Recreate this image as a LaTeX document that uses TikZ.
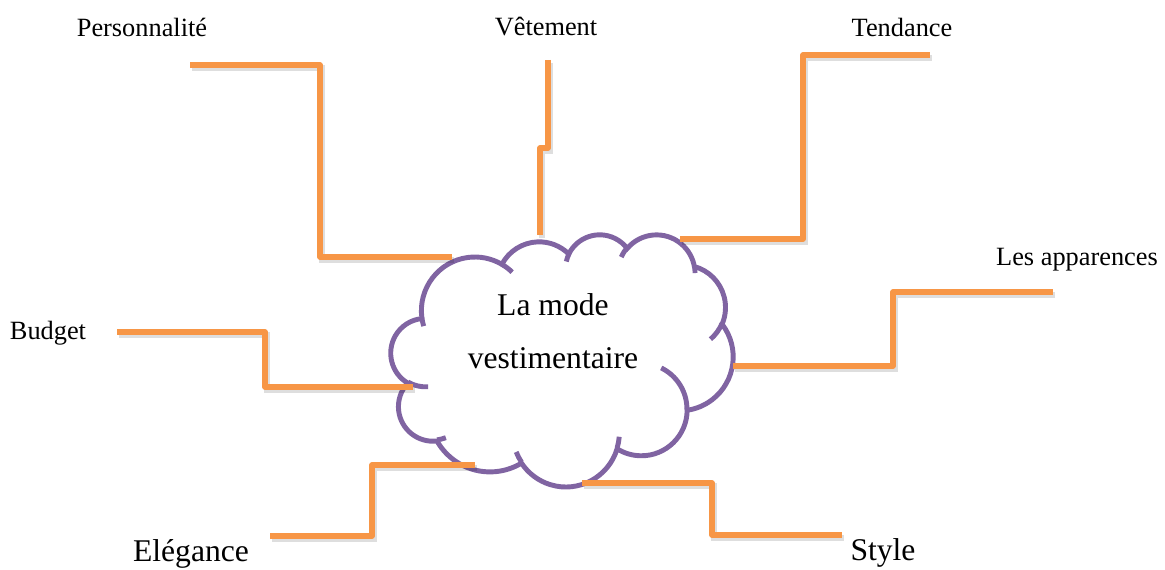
\documentclass[tikz,border=0pt]{standalone}
\usepackage{fontspec}
\setmainfont{Liberation Serif}
\definecolor{mforange}{RGB}{247,150,70}
\definecolor{mfpurple}{RGB}{128,100,162}

\begin{document}
\begin{tikzpicture}[
    x=0.02cm, y=-0.02cm,
    %% ── text styles ──────────────────────────────────────────────────────────
    smalllabel/.style={font=\fontsize{15}{18}\selectfont, inner sep=0pt},
    biglabel/.style={font=\fontsize{18}{22}\selectfont, inner sep=0pt},
    cloudtext/.style={font=\fontsize{18}{30}\selectfont, align=center, inner sep=0pt},
    %% ── line styles ──────────────────────────────────────────────────────────
    branch/.style={
        draw=mforange, line width=3pt, line join=round,
        preaction={draw=black, opacity=0.13, line width=3.4pt,
                   transform canvas={shift={(1pt,-1.5pt)}}}
    },
    cloudline/.style={draw=mfpurple, line width=2.8pt},
    %% one puff of the cloud: wR, hR, start angle, sweep
    puff/.style n args={4}{insert path={
        arc[start angle={atan2(#1*sin(#3),#2*cos(#3))},
            delta angle={mod(atan2(#1*sin(#3+#4),#2*cos(#3+#4))-atan2(#1*sin(#3),#2*cos(#3))+720,360)},
            x radius=#1, y radius=#2]}},
]
\useasboundingbox (0,0) rectangle (1165,570);

%% ── Cloud ───────────────────────────────────────────────────────────────────
\begin{scope}[shift={(391,234)}, x=0.015833cm, y=-0.011667cm]
  \filldraw[cloudline, fill=white] (39.00,143.70)
    [puff={67.53}{91.90}{-190.487}{123.781}]
    [puff={53.33}{72.67}{-144.102}{89.945}]
    [puff={43.65}{59.45}{-145.808}{99.723}]
    [puff={48.57}{65.95}{-130.986}{117.242}]
    [puff={53.33}{72.73}{-78.709}{109.027}]
    [puff={67.75}{92.20}{-46.267}{130.269}]
    [puff={57.85}{78.67}{0.625}{114.033}]
    [puff={67.52}{92.15}{22.452}{115.173}]
    [puff={77.20}{105.43}{66.243}{75.711}]
    [puff={43.60}{59.18}{-274.942}{146.736}]
    [puff={43.45}{59.45}{-246.829}{152.519}]
    -- cycle;
  %% inner strokes
  \draw[cloudline]
    (46.93,261.77)  [puff={43.45}{59.45}{86.742}{26.430}]
    (69.28,348.99)  [puff={43.60}{59.18}{73.611}{11.447}]
    (164.78,390.90) [puff={67.52}{92.15}{137.624}{14.081}]
    (288.27,347.51) [puff={67.52}{92.15}{6.453}{15.998}]
    (341.29,229.54) [puff={57.85}{78.67}{-70.292}{70.917}]
    (417.98,153.54) [puff={53.33}{72.73}{30.318}{27.752}]
    (383.24,54.26)  [puff={48.57}{65.95}{-13.744}{14.859}]
    (290.78,39.52)  [puff={48.57}{65.95}{-149.181}{18.195}]
    (221.41,47.20)  [puff={43.65}{59.45}{-163.494}{17.686}]
    (140.00,51.92)  [puff={67.53}{91.90}{-66.707}{12.319}]
    (41.27,157.89)  [puff={67.53}{91.90}{157.654}{11.858}];
\end{scope}

\node[cloudtext] (mode) at (553,331) {La mode\\vestimentaire};

%% ── Labels ──────────────────────────────────────────────────────────────────
\node[smalllabel] (personnalite) at (142,27)  {Personnalité};
\node[smalllabel] (vetement)     at (546,27)  {Vêtement};
\node[smalllabel] (tendance)     at (902,27)  {Tendance};
\node[smalllabel] (apparences)   at (1077,260) {Les apparences};
\node[smalllabel] (budget)       at (48,333)  {Budget};
\node[biglabel]   (elegance)     at (191,554) {Elégance};
\node[biglabel]   (style)        at (883,553) {Style};

%% ── Branch end points ───────────────────────────────────────────────────────
\coordinate (pers-start) at (190,65);   \coordinate (pers-knee) at (320,257);
\coordinate (pers-end)   at (452,257);
\coordinate (vet-start)  at (548,60);   \coordinate (vet-knee)  at (540,148);
\coordinate (vet-end)    at (540,235);
\coordinate (tend-start) at (930,55);   \coordinate (tend-knee) at (803,239);
\coordinate (tend-end)   at (680,239);
\coordinate (app-start)  at (1053,292); \coordinate (app-knee)  at (893,366);
\coordinate (app-end)    at (733,366);
\coordinate (bud-start)  at (117,332);  \coordinate (bud-knee)  at (265,387);
\coordinate (bud-end)    at (413,387);
\coordinate (ele-start)  at (270,536);  \coordinate (ele-knee)  at (372,465);
\coordinate (ele-end)    at (475,465);
\coordinate (sty-start)  at (582,483);  \coordinate (sty-knee)  at (712,535);
\coordinate (sty-end)    at (842,535);

%% ── Branches ────────────────────────────────────────────────────────────────
\draw[branch] (pers-start) -| (pers-knee) -- (pers-end);
\draw[branch] (vet-start)  |- (vet-knee)  -- (vet-end);
\draw[branch] (tend-start) -| (tend-knee) -- (tend-end);
\draw[branch] (app-start)  -| (app-knee)  -- (app-end);
\draw[branch] (bud-start)  -| (bud-knee)  -- (bud-end);
\draw[branch] (ele-start)  -| (ele-knee)  -- (ele-end);
\draw[branch] (sty-start)  -| (sty-knee)  -- (sty-end);

\end{tikzpicture}
\end{document}
